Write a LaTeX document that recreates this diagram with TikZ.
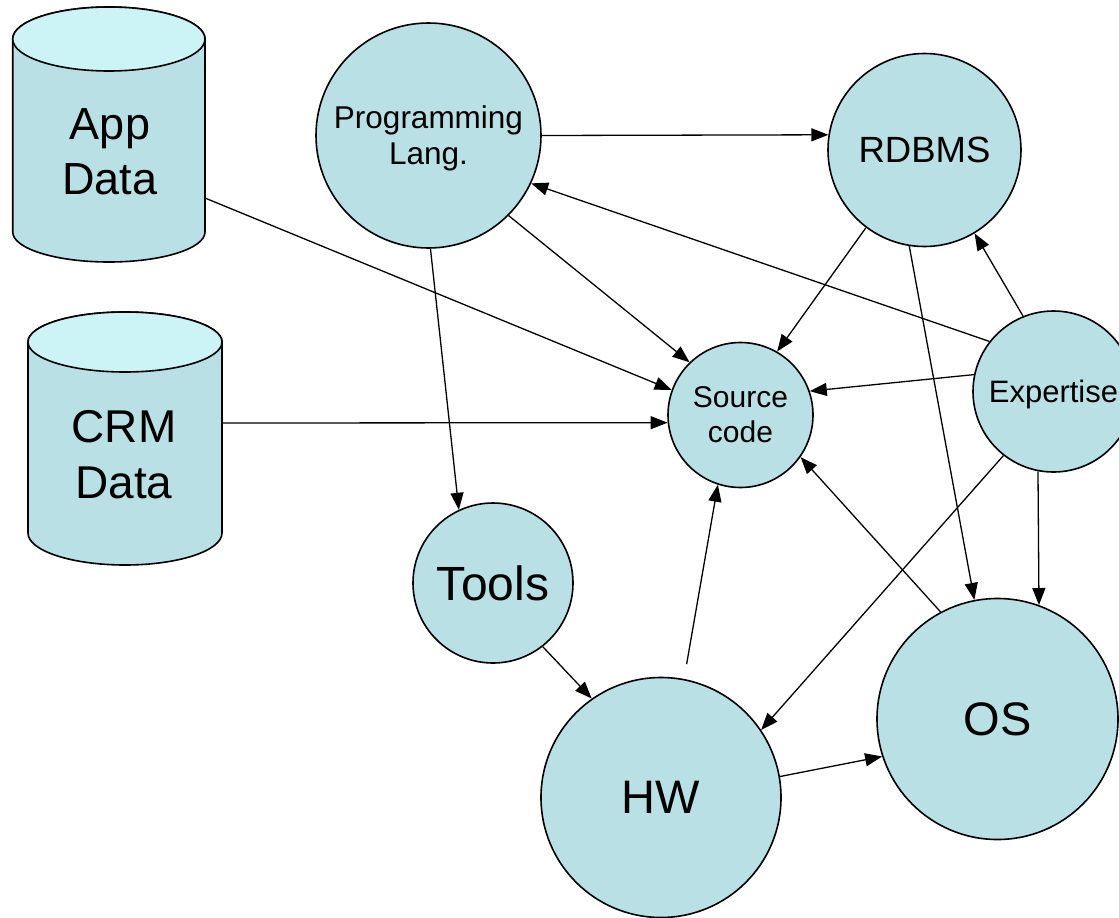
\documentclass[tikz,border=0pt]{standalone}
\usepackage{fontspec}
\setmainfont{Liberation Sans}
\usetikzlibrary{arrows.meta}
\definecolor{nodefill}{RGB}{185,224,228}
\definecolor{topfill}{RGB}{204,243,245}
\begin{document}
\begin{tikzpicture}[x=1pt,y=-1pt,
  bubble/.style={circle,draw=black,line width=1.6pt,fill=nodefill,inner sep=0pt,align=center},
  conn/.style={line width=1.3pt,-{Triangle[length=17pt,width=13pt]}},
  cylbody/.style={draw=black,line width=1.6pt,fill=nodefill},
  cyltop/.style={draw=black,line width=1.6pt,fill=topfill},
  cyltext/.style={align=center,inner sep=0pt}]
\useasboundingbox (0,0) rectangle (1119,918);

% App Data cylinder
\path[cylbody] (12.7,39) -- (12.7,232) arc[start angle=180,end angle=360,x radius=96.15pt,y radius=30pt] -- (205,39) arc[start angle=0,end angle=180,x radius=96.15pt,y radius=32pt] -- cycle;
\path[cyltop] (108.85,39) ellipse[x radius=96.15pt,y radius=32pt];
\node[cyltext,font=\fontsize{45}{55}\selectfont] (app) at (110,151.5) {App\\Data};
\coordinate (appport) at (205,198);

% CRM Data cylinder
\path[cylbody] (28,342) -- (28,533) arc[start angle=180,end angle=360,x radius=97pt,y radius=32pt] -- (222,342) arc[start angle=0,end angle=180,x radius=97pt,y radius=30pt] -- cycle;
\path[cyltop] (125,342) ellipse[x radius=97pt,y radius=30pt];
\node[cyltext,font=\fontsize{46}{56}\selectfont] (crm) at (124,454.5) {CRM\\Data};
\coordinate (crmport) at (222,423);

% circles
\node[bubble,minimum size=225pt,font=\fontsize{31.5}{36}\selectfont,text depth=0pt] (prog) at (428.5,135.5) {Programming\\Lang.};
\node[bubble,minimum size=193pt,font=\fontsize{36.5}{43}\selectfont] (rdbms) at (924.5,150) {RDBMS};
\node[bubble,minimum size=145pt,font=\fontsize{30}{35}\selectfont] (src) at (740.5,415) {Source\\code};
\node[bubble,minimum size=161pt,font=\fontsize{31}{37}\selectfont,text depth=0pt] (exp) at (1053.5,391.5) {Expertise};
\node[bubble,minimum size=160pt,font=\fontsize{48}{56}\selectfont] (tools) at (493,583) {Tools};
\node[bubble,minimum size=240pt,font=\fontsize{47}{55}\selectfont] (hw) at (661,797.5) {HW};
\node[bubble,minimum size=241pt,font=\fontsize{47}{55}\selectfont] (os) at (997.5,719) {OS};

% connectors
\draw[conn] (prog.0) -- (rdbms.171.4);
\draw[conn] (exp.142.9) -- (prog.-25.7);
\draw[conn] (prog.-45) -- (src.134.7);
\draw[conn] (appport) -- (src.160);
\draw[conn] (crmport) -- (src.186.3);
\draw[conn] (rdbms.-127.8) -- (src.60.4);
\draw[conn] (exp.112) -- (rdbms.-59.4);
\draw[conn] (exp.168.4) -- (src.19.7);
\draw[conn] (rdbms.-99) -- (os.101.4);
\draw[conn] (exp.-128) -- (hw.34.6);
\draw[conn] (exp.-101.6) -- (os.70.7);
\draw[conn] (os.118.3) -- (src.-35.2);
\draw[conn,shorten <=15pt] (hw.79.8) -- (src.-108.8);
\draw[conn] (prog.-89.7) -- (tools.115.9);
\draw[conn] (tools.-52.4) -- (hw.125.2);
\draw[conn] (hw.10.6) -- (os.198.5);
\end{tikzpicture}
\end{document}
